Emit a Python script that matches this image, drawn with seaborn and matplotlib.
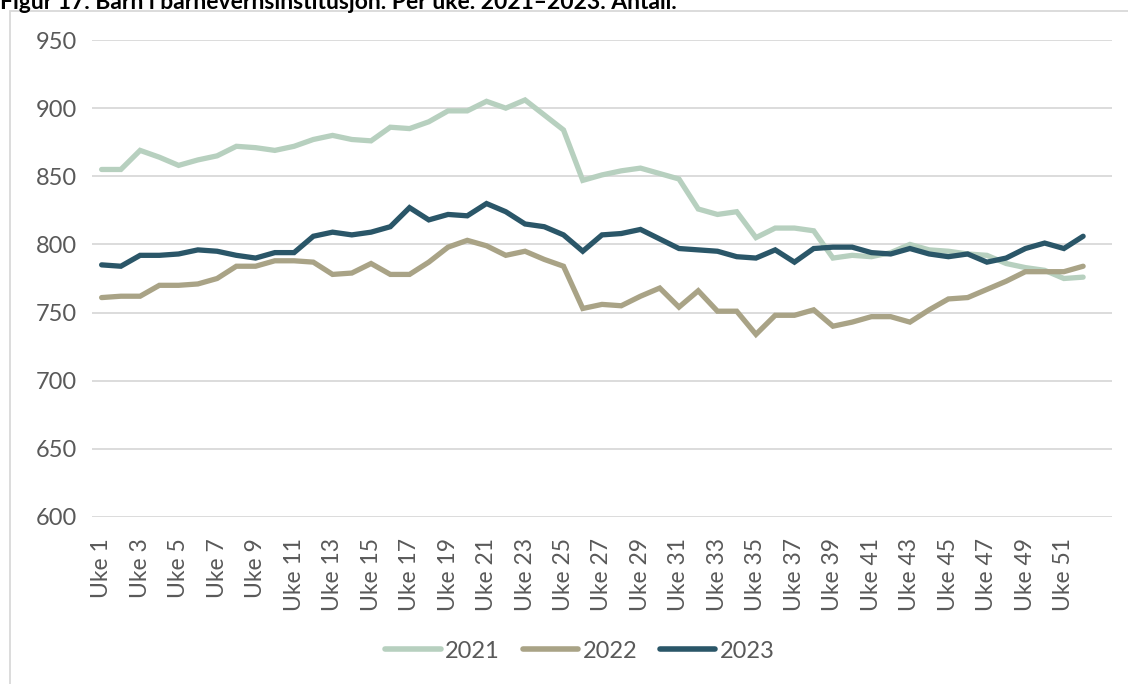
import matplotlib
matplotlib.use("Agg")
import matplotlib.pyplot as plt
import seaborn as sns
import pandas as pd
from matplotlib.patches import Rectangle

weeks = [f"Uke {i}" for i in range(1, 53)]
v2021 = [855, 855, 869, 864, 858, 862, 865, 872, 871, 869, 872, 877, 880, 877, 876, 886,
         885, 890, 898, 898, 905, 900, 906, 895, 884, 847, 851, 854, 856, 852, 848, 826,
         822, 824, 805, 812, 812, 810, 790, 792, 791, 794, 800, 796, 795, 793, 792, 786,
         783, 781, 775, 776]
v2022 = [761, 762, 762, 770, 770, 771, 775, 784, 784, 788, 788, 787, 778, 779, 786, 778,
         778, 787, 798, 803, 799, 792, 795, 789, 784, 753, 756, 755, 762, 768, 754, 766,
         751, 751, 734, 748, 748, 752, 740, 743, 747, 747, 743, 752, 760, 761, 767, 773,
         780, 780, 780, 784]
v2023 = [785, 784, 792, 792, 793, 796, 795, 792, 790, 794, 794, 806, 809, 807, 809, 813,
         827, 818, 822, 821, 830, 824, 815, 813, 807, 795, 807, 808, 811, 804, 797, 796,
         795, 791, 790, 796, 787, 797, 798, 798, 794, 793, 797, 793, 791, 793, 787, 790,
         797, 801, 797, 806]
years = ["2021", "2022", "2023"]
colors = ["#b7d0bf", "#a9a386", "#2a5668"]
yticks = [600, 650, 700, 750, 800, 850, 900, 950]
title = "Figur 17. Barn i barnevernsinstitusjon. Per uke. 2021\u20132023. Antall."

rows = []
for yr, vals in zip(years, [v2021, v2022, v2023]):
    for i, v in enumerate(vals):
        rows.append({"idx": i, "week": weeks[i], "value": v, "year": yr})
df = pd.DataFrame(rows)

sns.set_theme(style="white")
plt.rcParams["font.family"] = ["Lato", "DejaVu Sans"]

fig = plt.figure(figsize=(11.28, 6.84), dpi=100)
ax = fig.add_axes([92 / 1128, 1 - 517 / 684, (1112 - 92) / 1128, (517 - 40) / 684])

sns.lineplot(data=df, x="idx", y="value", hue="year", palette=dict(zip(years, colors)),
             linewidth=3.8, ax=ax, legend=False, solid_capstyle="round", solid_joinstyle="miter")

ax.set_xlim(-0.5, 52.5)
ax.set_ylim(600, 950)
ax.set_yticks(yticks)
ax.set_yticklabels([str(t) for t in yticks], fontsize=17, color="#595959")
odd = list(range(0, 52, 2))
ax.set_xticks(odd)
ax.set_xticklabels([weeks[i] for i in odd], rotation=90, fontsize=16.5, color="#595959")
ax.tick_params(axis="x", length=0, pad=15)
ax.tick_params(axis="y", length=0, pad=11)
ax.set_xlabel("")
ax.set_ylabel("")
ax.grid(axis="y", color="#d9d9d9", linewidth=1.3)
ax.grid(axis="x", visible=False)
for s in ax.spines.values():
    s.set_visible(False)

handles = [plt.Line2D([0], [0], color=c, linewidth=4, solid_capstyle="round") for c in colors]
fig.legend(handles, years, loc="center", bbox_to_anchor=(580 / 1128, 1 - 651 / 684), ncol=3,
           frameon=False, fontsize=17, handlelength=2.35, handletextpad=0.2, columnspacing=0.95,
           labelcolor="#595959")

fig.patches.append(Rectangle((9.5 / 1128, -0.1), 1.2, 1 - 11 / 684 + 0.1, transform=fig.transFigure,
                             fill=False, edgecolor="#d9d9d9", linewidth=1.3))
fig.text(0.0, 1 - 9 / 684, title, fontsize=16.5, fontweight="bold", color="black",
         ha="left", va="baseline")

fig.savefig("out.png", dpi=100)
